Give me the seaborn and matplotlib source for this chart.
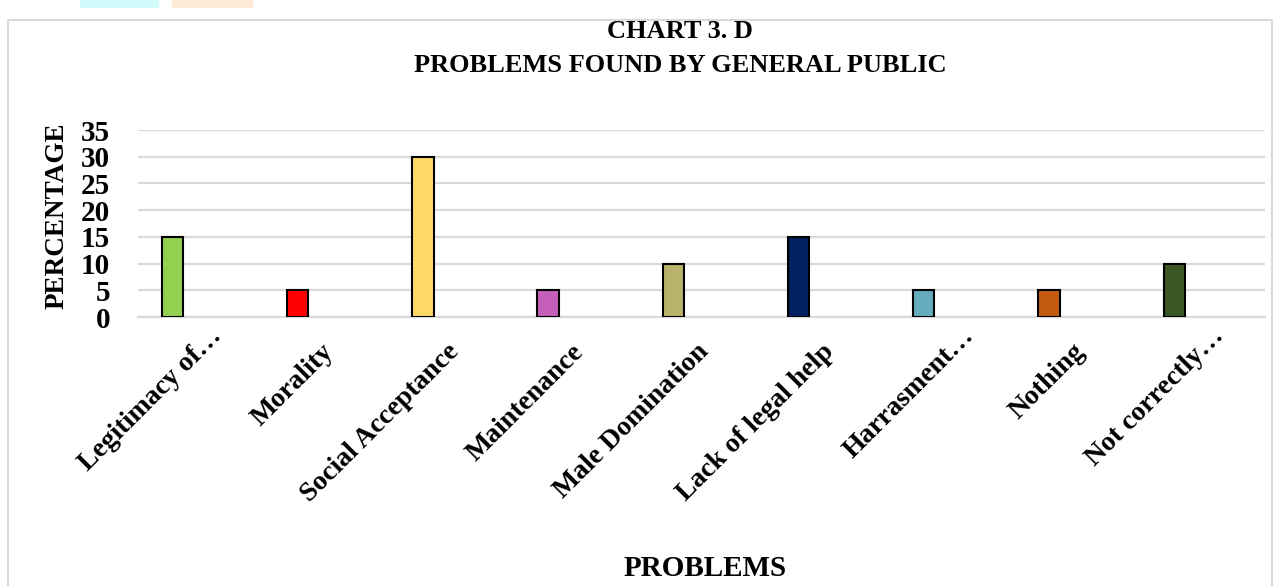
import numpy as np
import pandas as pd
import matplotlib
matplotlib.use("Agg")
import matplotlib.pyplot as plt
import matplotlib.transforms as mtransforms
import seaborn as sns
from matplotlib.patches import Rectangle

# ── Data ───────────────────────────────────────────
problems = ["Legitimacy of…", "Morality", "Social Acceptance", "Maintenance",
            "Male Domination", "Lack of legal help", "Harrasment…",
            "Nothing", "Not correctly…"]
percentage = [15, 5, 30, 5, 10, 15, 5, 5, 10]
bar_colors = ["#92D050", "#FF0000", "#FFD966", "#C55FBA", "#B8B26A",
              "#002060", "#64ACBE", "#C55A11", "#3A5724"]
y_ticks = [0, 5, 10, 15, 20, 25, 30, 35]

df = pd.DataFrame({"problem": problems, "pct": percentage})

sns.set_theme(style="white")
plt.rcParams["font.family"] = ["Liberation Serif", "DejaVu Serif"]
plt.rcParams["text.color"] = "black"
plt.rcParams["xtick.color"] = "black"
plt.rcParams["ytick.color"] = "black"

W, H = 1281, 586
fig = plt.figure(figsize=(W / 100, H / 100), dpi=100)
ax = fig.add_axes([138 / W, 1 - 317 / H, (1265 - 138) / W, (317 - 130) / H])

sns.barplot(data=df, x="problem", y="pct", hue="problem",
            palette=bar_colors, legend=False, width=0.17, saturation=1,
            edgecolor="black", linewidth=1.5, ax=ax, zorder=3)

# Excel-style: bar sits left of the category centre
shift = 0.225
ax.set_xticks(np.arange(len(problems)) + shift - 0.04)
ax.set_xticklabels(problems, rotation=45, ha="right",
                   rotation_mode="anchor", fontsize=20, fontweight="bold")
ax.set_xlim(-0.5 + shift, len(problems) - 0.5 + shift)
ax.tick_params(axis="x", length=0, pad=16)

# truncated labels sit a little higher/right in the original
nudge = mtransforms.ScaledTranslation(0.14, 0.16, fig.dpi_scale_trans)
for lbl in ax.get_xticklabels():
    if lbl.get_text().endswith("…"):
        lbl.set_transform(lbl.get_transform() + nudge)

ax.set_ylim(0, 35)
ax.set_yticks(y_ticks)
ax.set_yticklabels([str(v) for v in y_ticks], fontsize=21, fontweight="bold")
ax.tick_params(axis="y", length=0, pad=20)
ax.yaxis.grid(True, color="#D9D9D9", linewidth=1.6, zorder=0)
ax.set_axisbelow(True)
for s in ["top", "right", "left"]:
    ax.spines[s].set_visible(False)
ax.spines["bottom"].set_color("#D9D9D9")
ax.spines["bottom"].set_linewidth(1.6)
ax.set_xlabel("")
ax.set_ylabel("")

# ── Texts ──────────────────────────────────────────
fig.text(680 / W, 1 - 31 / H, "CHART 3. D", ha="center", va="center",
         fontsize=19, fontweight="bold")
fig.text(680 / W, 1 - 65 / H, "PROBLEMS FOUND BY GENERAL PUBLIC",
         ha="center", va="center", fontsize=19, fontweight="bold")
fig.text(57 / W, 1 - 216 / H, "PERCENTAGE", rotation=90, ha="center",
         va="center", fontsize=19.5, fontweight="bold")
fig.text(705 / W, 1 - 569 / H, "PROBLEMS", ha="center", va="center",
         fontsize=21, fontweight="bold")

# ── Chart frame and page decoration ────────────────
fig.patches.append(Rectangle((8 / W, -0.05), (1272 - 8) / W, 1 - 20 / H + 0.05,
                             transform=fig.transFigure, fill=False,
                             edgecolor="#D9D9D9", linewidth=1.5))
fig.patches.append(Rectangle((80 / W, 1 - 7 / H), 78 / W, 7 / H,
                             transform=fig.transFigure, color="#D2FAFA"))
fig.patches.append(Rectangle((172 / W, 1 - 7 / H), 80 / W, 7 / H,
                             transform=fig.transFigure, color="#FDEBD6"))

fig.savefig("out.png", dpi=100)
